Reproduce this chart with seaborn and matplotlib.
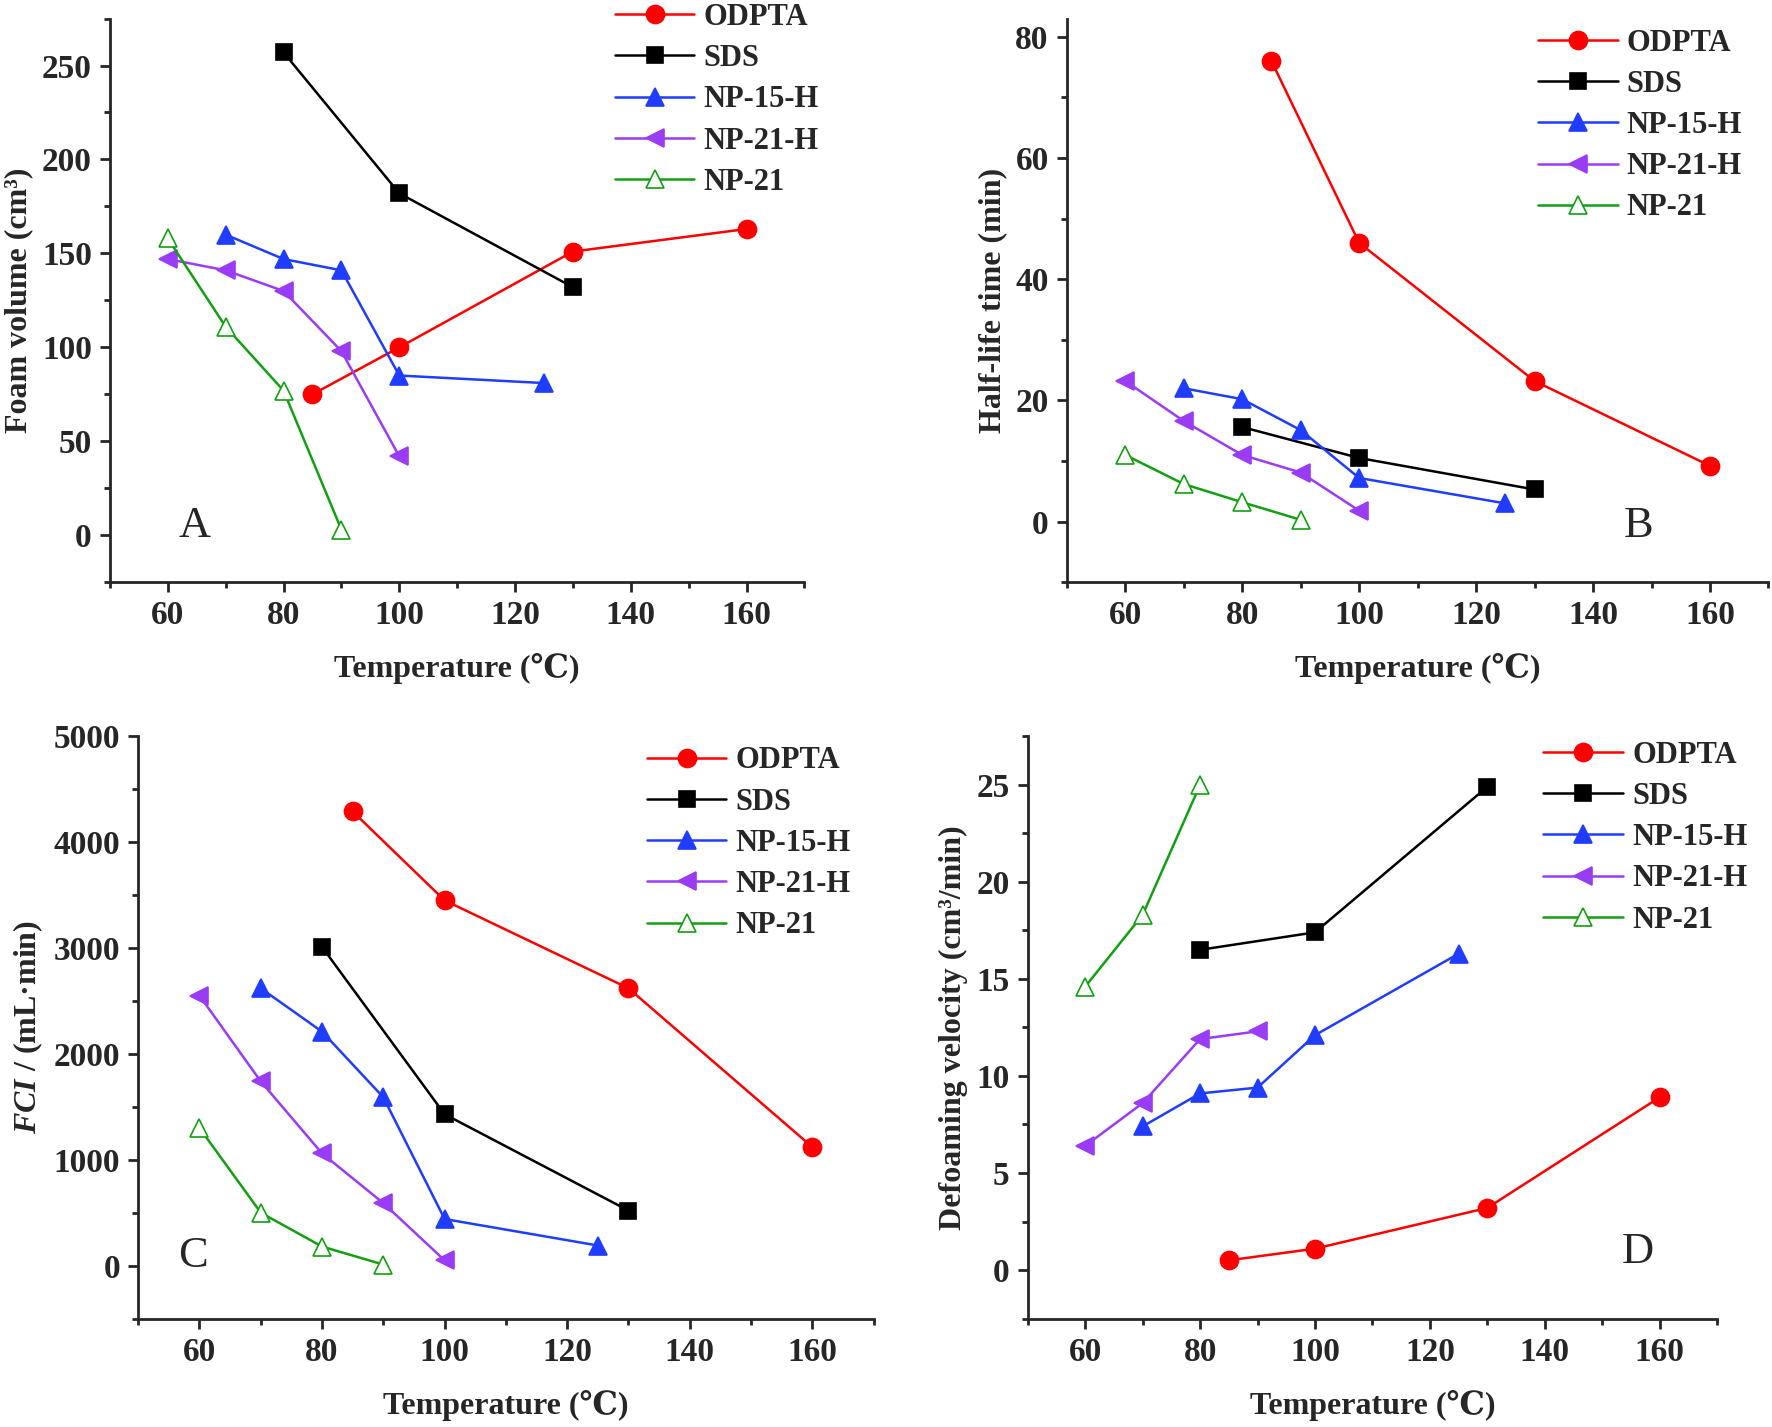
import matplotlib
matplotlib.use('Agg')
import matplotlib.pyplot as plt
import seaborn as sns
from matplotlib.ticker import MultipleLocator

# series names and styling
names = ['ODPTA', 'SDS', 'NP-15-H', 'NP-21-H', 'NP-21']
colors = ['#ff0000', '#000000', '#1f3cff', '#9a3cf5', '#12a012']
markers = ['o', 's', '^', '<', '^']
msizes = [13, 11, 13, 13, 13]

# temperatures (C) for each series
t_odpta = [85, 100, 130, 160]
t_sds = [80, 100, 130]
t_np15h = [70, 80, 90, 100, 125]
t_np21h = [60, 70, 80, 90, 100]
t_np21 = [60, 70, 80, 90]

# A: foam volume (cm3)
foam_odpta = [75, 100, 151, 163]
foam_sds = [257, 182, 132]
foam_np15h = [160, 147, 141, 85, 81]
foam_np21h = [147, 141, 130, 98, 42]
foam_np21 = [158, 111, 77, 3]

# B: half-life time (min)
half_odpta = [76, 46, 23.2, 9.2]
half_sds = [15.6, 10.5, 5.3]
half_np15h = [22, 20.2, 15.1, 7.2, 3]
half_np21h = [23.2, 16.6, 11, 8.1, 1.8]
half_np21 = [11, 6.2, 3.2, 0.3]

# C: FCI (mL.min)
fci_odpta = [4290, 3450, 2620, 1120]
fci_sds = [3010, 1430, 520]
fci_np15h = [2620, 2210, 1590, 440, 190]
fci_np21h = [2550, 1740, 1060, 590, 50]
fci_np21 = [1300, 500, 180, 10]

# D: defoaming velocity (cm3/min), NP-21-H only up to 90
t_np21h_d = [60, 70, 80, 90]
t_np21_d = [60, 70, 80]
dv_odpta = [0.5, 1.1, 3.2, 8.9]
dv_sds = [16.5, 17.4, 24.9]
dv_np15h = [7.4, 9.1, 9.4, 12.1, 16.3]
dv_np21h = [6.4, 8.6, 11.9, 12.3]
dv_np21 = [14.6, 18.3, 25]

sns.set_style('ticks')
plt.rcParams['font.family'] = ['Liberation Serif', 'DejaVu Serif']
plt.rcParams['font.weight'] = 'bold'
plt.rcParams['axes.labelweight'] = 'bold'
plt.rcParams['mathtext.fontset'] = 'custom'
plt.rcParams['mathtext.it'] = 'Liberation Serif:italic:bold'
plt.rcParams['mathtext.rm'] = 'Liberation Serif:bold'

fig = plt.figure(figsize=(17.72, 14.27), dpi=100)

panels = [
    dict(pos=[0.062, 0.592, 0.392, 0.395],
         xs=[t_odpta, t_sds, t_np15h, t_np21h, t_np21],
         ys=[foam_odpta, foam_sds, foam_np15h, foam_np21h, foam_np21],
         ylim=(-25, 275), ymaj=50, ymin=25, ylabel='Foam volume (cm³)',
         letter='A', lpos=(0.122, 0.10), leg=(0.347, 0.998)),
    dict(pos=[0.602, 0.592, 0.396, 0.395],
         xs=[t_odpta, t_sds, t_np15h, t_np21h, t_np21],
         ys=[half_odpta, half_sds, half_np15h, half_np21h, half_np21],
         ylim=(-10, 83), ymaj=20, ymin=10, ylabel='Half-life time (min)',
         letter='B', lpos=(0.815, 0.10), leg=(0.868, 0.980)),
    dict(pos=[0.078, 0.076, 0.415, 0.408],
         xs=[t_odpta, t_sds, t_np15h, t_np21h, t_np21],
         ys=[fci_odpta, fci_sds, fci_np15h, fci_np21h, fci_np21],
         ylim=(-500, 5000), ymaj=1000, ymin=500, ylabel='$FCI$ / (mL·min)',
         letter='C', lpos=(0.074, 0.107), leg=(0.365, 0.477)),
    dict(pos=[0.580, 0.076, 0.389, 0.408],
         xs=[t_odpta, t_sds, t_np15h, t_np21h_d, t_np21_d],
         ys=[dv_odpta, dv_sds, dv_np15h, dv_np21h, dv_np21],
         ylim=(-2.5, 27.5), ymaj=5, ymin=2.5, ylabel='Defoaming velocity (cm³/min)',
         letter='D', lpos=(0.885, 0.115), leg=(0.871, 0.481)),
]

for p in panels:
    ax = fig.add_axes(p['pos'])
    for i, name in enumerate(names):
        face = 'white' if name == 'NP-21' else colors[i]
        sns.lineplot(x=p['xs'][i], y=p['ys'][i], ax=ax, color=colors[i],
                     marker=markers[i], markersize=msizes[i], markerfacecolor=face,
                     markeredgecolor=colors[i], markeredgewidth=1.2, linewidth=1.8,
                     label=name, legend=False, clip_on=False)
    ax.set_xlim(50, 170)
    ax.set_ylim(*p['ylim'])
    ax.xaxis.set_major_locator(MultipleLocator(20))
    ax.xaxis.set_minor_locator(MultipleLocator(10))
    ax.yaxis.set_major_locator(MultipleLocator(p['ymaj']))
    ax.yaxis.set_minor_locator(MultipleLocator(p['ymin']))
    ax.set_xticks([60, 80, 100, 120, 140, 160])
    for s in ['top', 'right']:
        ax.spines[s].set_visible(False)
    for s in ['left', 'bottom']:
        ax.spines[s].set_linewidth(2.0)
    ax.tick_params(which='major', direction='out', length=7, width=2, labelsize=24, pad=6)
    ax.tick_params(which='minor', direction='out', length=4, width=2)
    for lab in ax.get_xticklabels() + ax.get_yticklabels():
        lab.set_fontweight('bold')
    ax.set_xlabel('Temperature (℃)', fontsize=23, fontweight='bold', labelpad=16)
    ax.set_ylabel(p['ylabel'], fontsize=23, fontweight='bold', labelpad=6)
    ax.text(p['lpos'][0], p['lpos'][1], p['letter'], transform=ax.transAxes,
            fontsize=32, fontweight='normal', ha='center', va='center')
    ax.legend(loc='upper left', bbox_to_anchor=p['leg'], bbox_transform=fig.transFigure,
              frameon=False, handlelength=2.6, handletextpad=0.3,
              labelspacing=0.4, borderpad=0, borderaxespad=0,
              prop={'weight': 'bold', 'size': 22})

fig.savefig('out.png', dpi=100, facecolor='white')
